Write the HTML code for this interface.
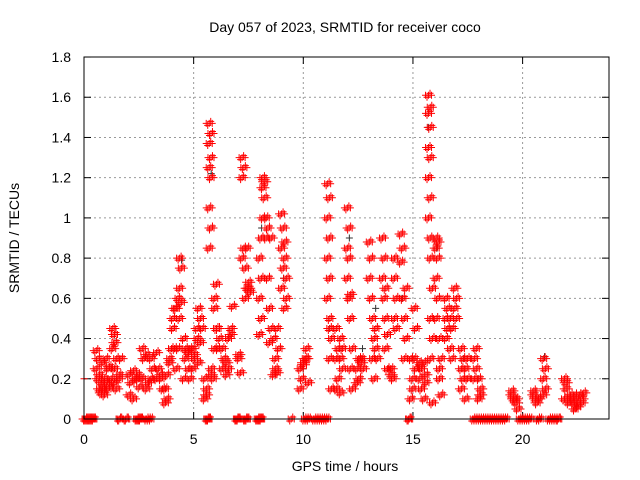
<!DOCTYPE html>
<html><head><meta charset="utf-8"><style>
body{margin:0;background:#fff;}
svg{display:block;font-family:"Liberation Sans",sans-serif;}
</style></head><body>
<svg id="chart" width="640" height="480" xmlns="http://www.w3.org/2000/svg">
<rect width="640" height="480" fill="#fff"/>
<text x="345" y="32" font-size="14" text-anchor="middle">Day 057 of 2023, SRMTID for receiver coco</text>
<text transform="translate(19,238) rotate(-90)" font-size="14" text-anchor="middle">SRMTID / TECUs</text>
<text x="345" y="471" font-size="14" text-anchor="middle">GPS time / hours</text>
<g id="grid"></g><g id="ticks"></g><g id="marks"></g>
<rect x="84" y="57" width="525" height="362" fill="none" stroke="#000" stroke-width="1"/>
</svg>
<script>
const xTicks=[0,5,10,15,20];
const yTicks=[0,0.2,0.4,0.6,0.8,1,1.2,1.4,1.6,1.8];
const yTickLabels=["0","0.2","0.4","0.6","0.8","1","1.2","1.4","1.6","1.8"];
const colT=[0.6,0.75,0.9,1.05,1.2,1.35,1.45,1.65,2.1,2.3,2.5,2.7,2.9,3.1,3.35,3.55,3.75,3.95,4.1,4.25,4.4,4.6,4.8,5.0,5.2,5.35,5.55,5.75,5.85,6.0,6.15,6.35,6.55,6.75,7.1,7.25,7.4,7.55,8.05,8.2,8.35,8.5,8.7,8.85,9.05,9.2,9.9,10.05,10.2,11.15,11.25,11.55,11.75,12.05,12.2,12.5,12.7,13.05,13.2,13.35,13.65,13.8,14.05,14.2,14.5,14.65,14.95,15.1,15.35,15.55,15.75,15.85,16.1,16.25,16.55,16.75,16.95,17.25,17.45,17.85,18.05,19.55,19.75,20.55,20.7,21.0,21.95,22.15,22.35,22.55,22.75];
const colV=[
[0.34,0.3,0.25,0.2],[0.22,0.18,0.15,0.13],[0.28,0.2,0.15,0.12],[0.18,0.25,0.3,0.15],[0.26,0.2,0.16],[0.45,0.42,0.35,0.25],[0.18,0.15,0.38,0.3],[0.22,0.3,0.2],
[0.22,0.18,0.12],[0.1,0.2,0.24],[0.2,0.16,0.22],[0.35,0.3,0.2],[0.15,0.18,0.32],[0.3,0.25,0.2],[0.33,0.25,0.2],[0.22,0.15,0.2],[0.15,0.1,0.08,0.22],[0.3,0.35,0.28],[0.45,0.55,0.5,0.35],[0.25,0.35,0.55,0.6],
[0.8,0.75,0.65,0.58,0.5],[0.4,0.3,0.2,0.35],[0.25,0.2,0.33,0.35],[0.35,0.3,0.25,0.32],[0.4,0.55,0.45,0.28],[0.5,0.45,0.38],[0.1,0.15,0.2,0.12],
[1.47,1.42,1.37,1.3,1.25,1.2,1.05,0.95,0.85],[0.25,0.2,0.22],[0.35,0.45,0.6,0.67,0.55],[0.45,0.4,0.35],[0.35,0.3,0.25],[0.22,0.25,0.28,0.4],[0.45,0.56,0.42],[0.3,0.23,0.32],
[1.3,1.25,1.2,0.85,0.8],[0.75,0.65,0.6,0.85],[0.68,0.63,0.65],
[0.42,0.5,0.6,0.7,0.8,0.9],[1.0,1.1,1.2,1.18,1.15],[1.0,0.95,0.9,0.7],[0.55,0.45,0.38,0.9],[0.4,0.3,0.22,0.25],[0.23,0.35,0.45],
[1.02,0.95,0.85,0.75,0.65],[0.55,0.6,0.88,0.7,0.8],[0.15,0.2,0.25],[0.28,0.3,0.27],[0.35,0.18,0.3],
[1.17,1.1,1.0,0.9,0.8,0.7,0.6],[0.5,0.4,0.3,0.15,0.45],[0.45,0.35,0.3,0.2,0.15],[0.13,0.25,0.4,0.35,0.3],
[1.05,0.95,0.85,0.8,0.7,0.6],[0.5,0.35,0.25,0.15,0.62],[0.25,0.2,0.18,0.3],[0.28,0.25,0.3],
[0.88,0.8,0.7,0.6],[0.5,0.4,0.3,0.2],[0.35,0.3,0.45],[0.9,0.8,0.7,0.6],[0.5,0.42,0.35,0.25,0.65],
[0.22,0.2,0.25],[0.8,0.6,0.5,0.45,0.7],[0.92,0.85,0.78,0.6],[0.5,0.4,0.3,0.65],[0.3,0.2,0.1,0.15],[0.55,0.45,0.3,0.25],
[0.28,0.25,0.2,0.15],[0.1,0.22,0.28,0.18],[1.61,1.55,1.52,1.45,1.35,1.3,1.2,1.1,1.0,0.9],[0.8,0.65,0.5,0.4,0.3,0.08],
[0.9,0.88,0.85,0.8,0.7,0.6,0.5],[0.4,0.3,0.2,0.12,0.25],[0.6,0.55,0.5,0.45,0.4],[0.35,0.3,0.5,0.45],[0.65,0.6,0.55,0.5],
[0.35,0.3,0.25,0.2,0.15],[0.1,0.3,0.25,0.2],[0.3,0.25,0.2,0.35],[0.2,0.15,0.1,0.12],
[0.12,0.1,0.14],[0.08,0.05,0.1],[0.12,0.1,0.14],[0.08,0.1],[0.3,0.25,0.2,0.15,0.12],
[0.2,0.15,0.1,0.18],[0.08,0.12,0.1],[0.1,0.05,0.08,0.12],[0.08,0.12,0.06],[0.1,0.13,0.08]];
const blackT=[4.45,5.8,8.1,8.3,9.1,10.0,11.2,12.1,12.7,13.3,14.5,15.7,16.1,17.3,18.0,21.0];
const blackV=[0.79,1.22,0.95,1.0,0.7,0.25,0.45,0.9,0.35,0.55,0.6,1.45,0.85,0.3,0.2,0.31];
const zeroT=[0.05,0.1,0.15,0.2,0.25,0.3,0.35,0.4,0.45,1.6,1.65,1.9,1.95,2.4,2.45,2.5,2.55,2.6,2.85,2.95,3.05,5.6,5.65,5.7,6.95,7.0,7.05,7.35,7.4,7.45,7.9,7.95,8.0,8.05,8.1,9.45,10.05,10.15,10.25,10.5,10.6,10.7,10.8,10.9,11.0,11.1,14.8,14.85,17.75,17.85,17.95,18.05,18.15,18.25,18.35,18.45,18.55,18.65,18.75,18.85,18.95,19.05,19.15,19.25,19.85,19.95,20.05,20.15,20.25,20.35,20.7,20.8,21.2,21.3,21.4,21.5,21.6,21.65];
const X=h=>84+h*21.93, Y=v=>419-v*201.1;
const NS="http://www.w3.org/2000/svg";
const grid=document.getElementById('grid'),ticks=document.getElementById('ticks'),marks=document.getElementById('marks');
function ln(p,x1,y1,x2,y2,st,dash){const l=document.createElementNS(NS,'line');l.setAttribute('x1',x1);l.setAttribute('y1',y1);l.setAttribute('x2',x2);l.setAttribute('y2',y2);l.setAttribute('stroke',st);if(dash)l.setAttribute('stroke-dasharray',dash);p.appendChild(l);return l;}
function tx(s,x,y,a){const t=document.createElementNS(NS,'text');t.textContent=s;t.setAttribute('x',x);t.setAttribute('y',y);t.setAttribute('font-size','14');t.setAttribute('text-anchor',a);ticks.appendChild(t);return t;}
xTicks.forEach(v=>{const x=X(v);
if(v>0){const g=ln(grid,x,57,x,419,'#999','2,3');

}
ln(ticks,x,419,x,412,'#000');ln(ticks,x,57,x,64,'#000');
const t=tx(String(v),x,444,'middle');

});
yTicks.forEach((v,i)=>{const y=Y(v);
if(v>0&&v<1.8){const g=ln(grid,84,y,609,y,'#999','2,3');

}
ln(ticks,84,y,91,y,'#000');ln(ticks,609,y,602,y,'#000');
const t=tx(yTickLabels[i],71,y+5,'end');

});
// marker glyph: a cluster of overlapping pluses (styling only) to mimic dense sampling
const OFF=[[-3,0],[0,0],[3,0],[-1.5,2],[1.5,-2]];
function plus(t,v,c,dense){const x=X(t),y=Y(v);let d='';
const offs=dense?OFF:[[0,0]];
offs.forEach(o=>{const cx=x+o[0],cy=y+o[1];d+=`M${cx-3.5} ${cy}H${cx+3.5}M${cx} ${cy-3.5}V${cy+3.5}`;});
const p=document.createElementNS(NS,'path');
p.setAttribute('d',d);p.setAttribute('stroke',c);p.setAttribute('fill','none');marks.appendChild(p);return p;}
blackT.forEach((t,i)=>{const p=plus(t,blackV[i],'#333',false);

});
colT.forEach((t,i)=>colV[i].forEach((v,j)=>{const p=plus(t+(j%2?0.04:-0.04),v,'#f00',true);

}));
const p0=plus(0.0,0.2,'#f00',false);


zeroT.forEach(t=>{const p=plus(t,0,'#f00',true);

});
</script>
</body></html>
